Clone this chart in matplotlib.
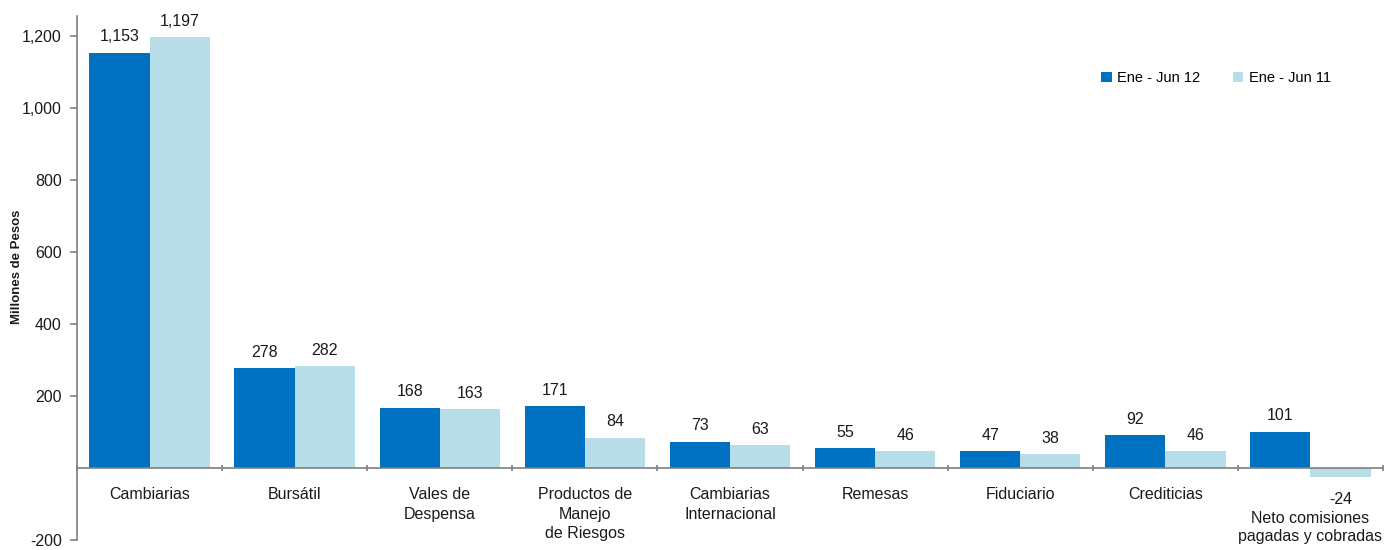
import matplotlib
matplotlib.use("Agg")
import matplotlib.pyplot as plt
import numpy as np

categories = ["Cambiarias", "Bursátil", "Vales de\nDespensa", "Productos de\nManejo\nde Riesgos",
              "Cambiarias\nInternacional", "Remesas", "Fiduciario", "Crediticias",
              "Neto comisiones\npagadas y cobradas"]
ene_jun_12 = [1153, 278, 168, 171, 73, 55, 47, 92, 101]
ene_jun_11 = [1197, 282, 163, 84, 63, 46, 38, 46, -24]
series_names = ["Ene - Jun 12", "Ene - Jun 11"]
yticks = [-200, 200, 400, 600, 800, 1000, 1200]

plt.rcParams['font.family'] = ['Liberation Sans', 'DejaVu Sans']
dark = "#0070C0"
light = "#B7DDE8"
gray = "#7F7F7F"
txt = "#1a1a1a"

fig = plt.figure(figsize=(13.9, 5.5), dpi=100)
ax = fig.add_axes([0.0554, 0.018, 0.9396, 0.953])

n = len(categories)
x = np.arange(n)
w = 0.415
b1 = ax.bar(x - w / 2, ene_jun_12, w, color=dark, label=series_names[0])
b2 = ax.bar(x + w / 2, ene_jun_11, w, color=light, label=series_names[1])

for bars, vals in ((b1, ene_jun_12), (b2, ene_jun_11)):
    for r, v in zip(bars, vals):
        xc = r.get_x() + r.get_width() / 2
        if v >= 0:
            ax.annotate(f"{v:,}", (xc, v), xytext=(0, 6), textcoords="offset points",
                        ha="center", va="bottom", fontsize=11.5, color=txt)
        else:
            ax.annotate(f"{v:,}", (xc, v), xytext=(0, -11), textcoords="offset points",
                        ha="center", va="top", fontsize=11.5, color=txt)

ax.set_xlim(-0.5, n - 0.5)
ax.set_ylim(-200, 1255)
ax.set_yticks(yticks)
ax.set_yticklabels([f"{t:,}" for t in yticks], fontsize=11.5, color=txt)

ax.spines['top'].set_visible(False)
ax.spines['right'].set_visible(False)
ax.spines['bottom'].set_position(('data', 0))
for s in ('left', 'bottom'):
    ax.spines[s].set_color(gray)
    ax.spines[s].set_linewidth(1.2)

# category labels (last one sits lower, below the negative value label)
ax.set_xticks(x)
ax.set_xticklabels(categories[:-1] + [""], fontsize=11.5, color=txt, linespacing=1.35)
ax.tick_params(axis='x', which='major', length=0, pad=14)
ax.annotate(categories[-1], (x[-1], 0), xytext=(0, -31), textcoords="offset points",
            ha="center", va="top", fontsize=11.5, color=txt, linespacing=1.2)
ax.set_xticks(np.arange(n + 1) - 0.5, minor=True)
ax.tick_params(axis='x', which='minor', length=5, color=gray, width=1.2, direction='inout')
ax.tick_params(axis='y', length=5, color=gray, width=1.2, direction='out', pad=6)

fig.text(17 / 1390, 0.515, "Millones de Pesos", rotation=90, ha="center", va="center",
         fontsize=9.5, fontweight='bold', color=txt)

ax.legend(loc='upper right', bbox_to_anchor=(0.97, 0.92), ncol=2, frameon=False,
          fontsize=10.5, handlelength=0.7, handleheight=0.7, columnspacing=2.2,
          handletextpad=0.4)

fig.savefig("out.png", dpi=100)
